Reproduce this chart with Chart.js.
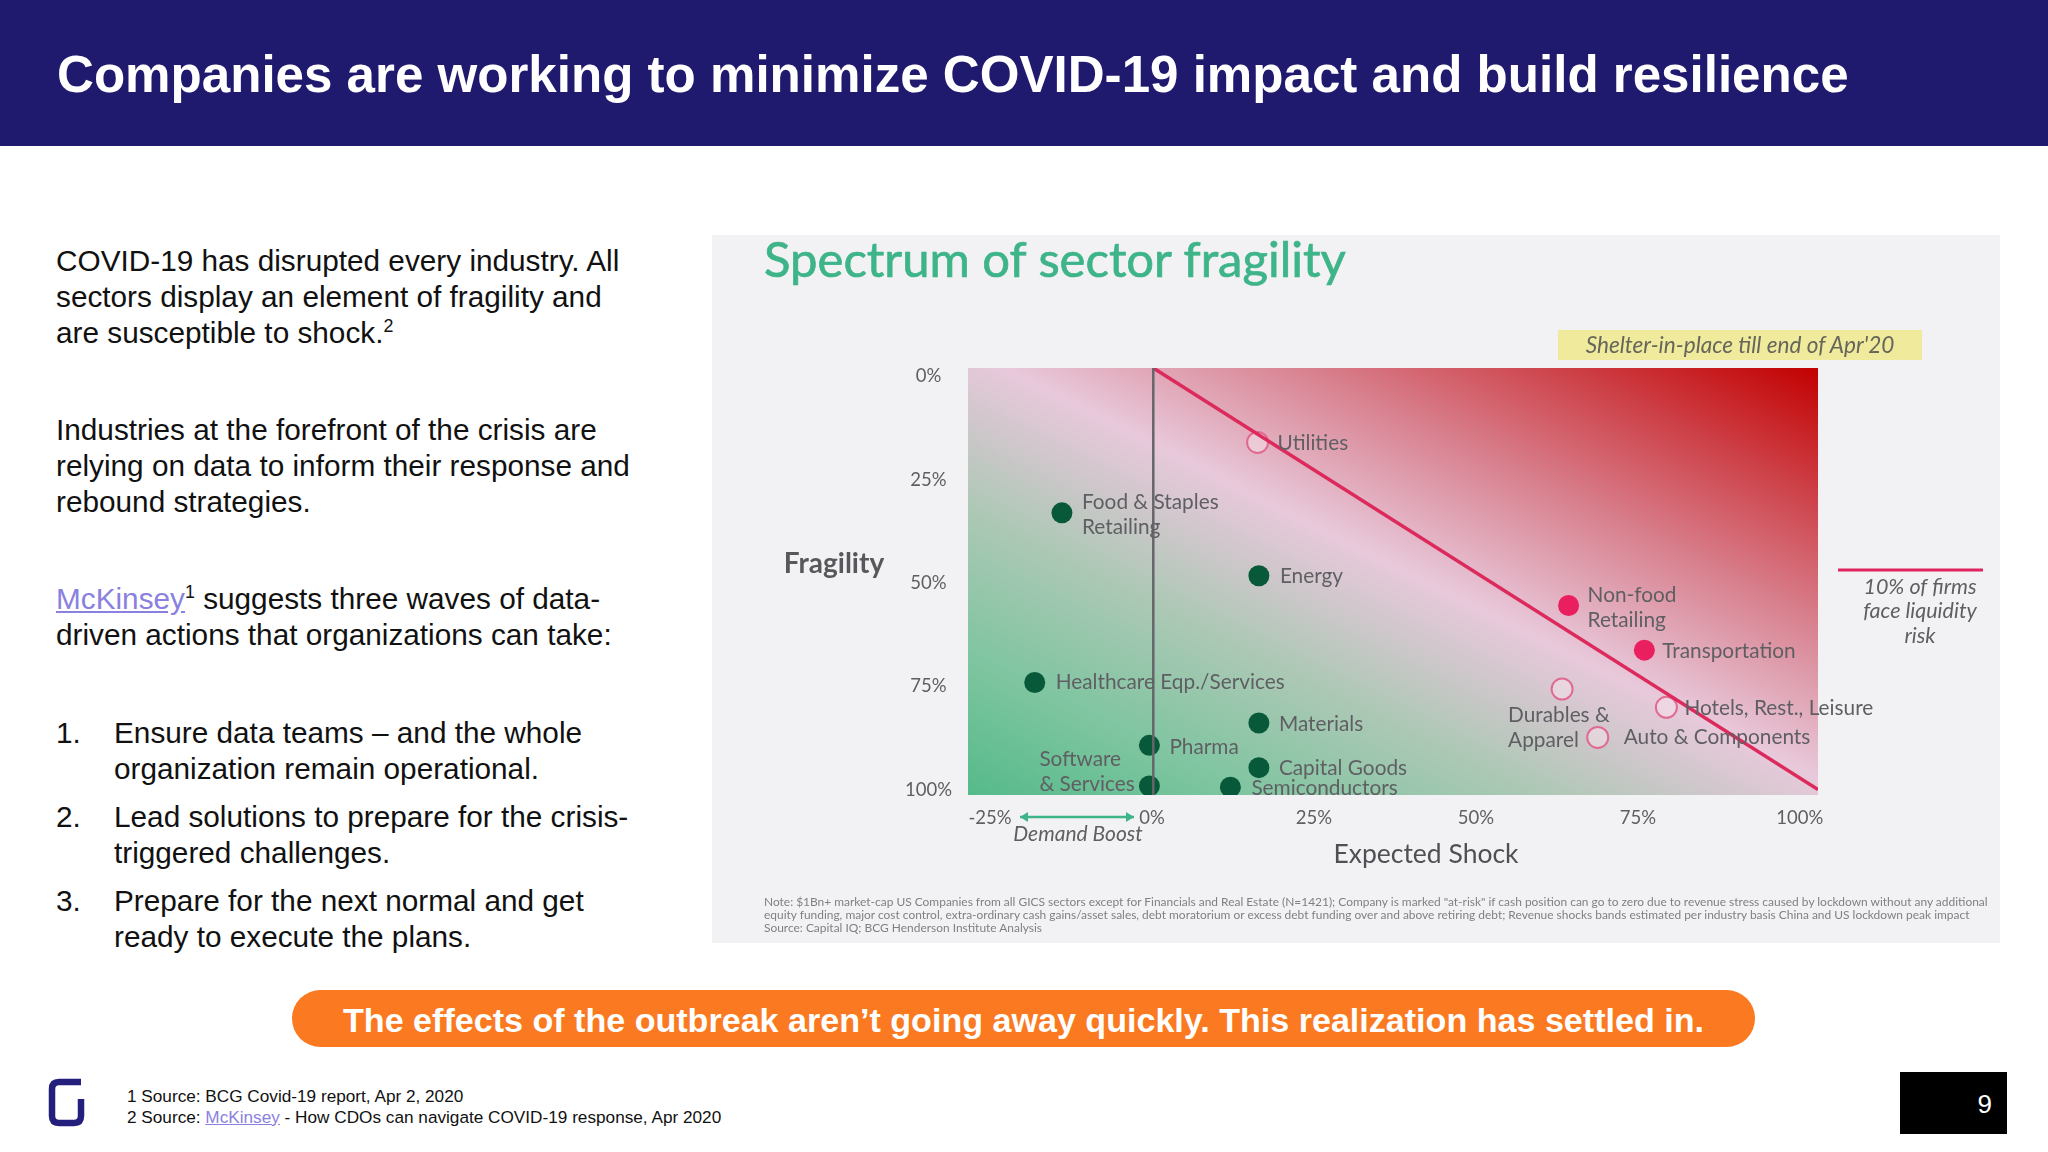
<!DOCTYPE html>
<html>
<head>
<meta charset="utf-8">
<title>Sector fragility</title>
<script src="https://cdn.jsdelivr.net/npm/chart.js@4"></script>
<style>
  html, body { margin: 0; padding: 0; background: #fff; }
  body { position: relative; width: 2048px; height: 1152px; overflow: hidden; font-family: "Liberation Sans", Arial, sans-serif; color: #111; }
  .abs { position: absolute; white-space: nowrap; }
  #header { left: 0; top: 0; width: 2048px; height: 146px; background: #1f1a6e; }
  #headline { left: 57px; top: 45px; font-size: 51.1px; line-height: 60px; font-weight: bold; color: #fff; }
  .body-text { font-size: 29.75px; line-height: 36px; }
  a { color: #8a80e0; }
  sup { font-size: 60%; line-height: 0; }
  #panel { left: 712px; top: 235px; width: 1288px; height: 708px; background: #f2f1f4; }
  #chartTitle { left: 764px; top: 229px; font-family: Lato, sans-serif; font-size: 49px; line-height: 58px; color: #3eb489; -webkit-text-stroke: 0.7px #3eb489; filter: blur(0.5px); }
  #badge { left: 1558px; top: 330px; width: 364px; height: 30px; line-height: 30px; text-align: center; background: #f0ea9c; color: #66665a; font-family: Lato, sans-serif; font-style: italic; font-size: 22.6px; filter: blur(0.4px); }
  #note { left: 764px; top: 895px; font-family: Lato, sans-serif; font-size: 11.95px; line-height: 13px; color: #808084; filter: blur(0.6px); }
  #chartBox { left: 712px; top: 235px; width: 1288px; height: 708px; }
  #chartCanvas { filter: blur(0.6px); }
  #pill { left: 292px; top: 990px; width: 1463px; height: 57px; border-radius: 29px; background: #fb7a21; color: #fff; font-weight: bold; font-size: 34.1px; line-height: 60px; text-align: center; }
  #sources { left: 127px; top: 1086px; font-size: 17.2px; line-height: 20.5px; }
  #pageBox { left: 1900px; top: 1072px; width: 107px; height: 62px; background: #000; color: #fff; font-size: 26px; line-height: 64px; text-align: right; box-sizing: border-box; padding-right: 15px; }
</style>
</head>
<body>
<div class="abs" id="header"></div>
<div class="abs" id="headline">Companies are working to minimize COVID-19 impact and build resilience</div>

<div class="abs body-text" style="left:56px;top:243px">COVID-19 has disrupted every industry. All<br>sectors display an element of fragility and<br>are susceptible to shock.<sup>2</sup></div>
<div class="abs body-text" style="left:56px;top:412px">Industries at the forefront of the crisis are<br>relying on data to inform their response and<br>rebound strategies.</div>
<div class="abs body-text" style="left:56px;top:581px"><a href="#">McKinsey</a><sup>1</sup> suggests three waves of data-<br>driven actions that organizations can take:</div>
<div class="abs body-text" style="left:56px;top:715px">1.</div>
<div class="abs body-text" style="left:114px;top:715px">Ensure data teams – and the whole<br>organization remain operational.</div>
<div class="abs body-text" style="left:56px;top:799px">2.</div>
<div class="abs body-text" style="left:114px;top:799px">Lead solutions to prepare for the crisis-<br>triggered challenges.</div>
<div class="abs body-text" style="left:56px;top:883px">3.</div>
<div class="abs body-text" style="left:114px;top:883px">Prepare for the next normal and get<br>ready to execute the plans.</div>

<div class="abs" id="panel"></div>
<div class="abs" id="chartTitle">Spectrum of sector fragility</div>
<div class="abs" id="badge">Shelter-in-place till end of Apr'20</div>
<div class="abs" id="chartBox"><canvas id="chartCanvas" width="1288" height="708"></canvas></div>
<div class="abs" id="note">Note: $1Bn+ market-cap US Companies from all GICS sectors except for Financials and Real Estate (N=1421); Company is marked "at-risk" if cash position can go to zero due to revenue stress caused by lockdown without any additional<br>equity funding, major cost control, extra-ordinary cash gains/asset sales, debt moratorium or excess debt funding over and above retiring debt; Revenue shocks bands estimated per industry basis China and US lockdown peak impact<br>Source: Capital IQ; BCG Henderson Institute Analysis</div>

<div class="abs" id="pill">The effects of the outbreak aren’t going away quickly. This realization has settled in.</div>

<svg class="abs" style="left:48px;top:1078px" width="38" height="50" viewBox="0 0 38 50">
  <path d="M33 4 H11 Q4 4 4 11 V38 Q4 45 11 45 H26 Q33 45 33 38 V21" fill="none" stroke="#241f7c" stroke-width="6.5"/>
</svg>
<div class="abs" id="sources">1 Source: BCG Covid-19 report, Apr 2, 2020<br>2 Source: <a href="#">McKinsey</a> - How CDOs can navigate COVID-19 response, Apr 2020</div>
<div class="abs" id="pageBox">9</div>

<script>
// Sectors (x = expected shock %, y = fragility %)
const safeNames = ['Food & Staples|Retailing', 'Energy', 'Healthcare Eqp./Services', 'Materials', 'Pharma', 'Software|& Services', 'Capital Goods', 'Semiconductors'];
const safeShock = [-13.9, 16.5, -18.1, 16.5, -0.4, -0.4, 16.5, 12.1];
const safeFragility = [33.4, 48.6, 74.4, 84.2, 89.6, 99.4, 95, 99.7];

const riskNames = ['Non-food|Retailing', 'Transportation'];
const riskShock = [64.3, 76];
const riskFragility = [55.8, 66.6];

const hollowNames = ['Utilities', 'Durables &|Apparel', 'Auto & Components', 'Hotels, Rest., Leisure'];
const hollowShock = [16.3, 63.3, 68.8, 79.4];
const hollowFragility = [16.4, 76, 87.7, 80.4];

const riskLineShock = [0.2, 102.8];
const riskLineFragility = [-1.6, 100.3];
const zeroLineShock = [0.2, 0.2];
const zeroLineFragility = [-1.6, 101.6];

const shockTicks = [-25, 0, 25, 50, 75, 100];
const fragilityTicks = [0, 25, 50, 75, 100];

const textFont = 'Lato, sans-serif';
const textColor = '#5f5f63';

const toPoints = (xs, ys) => xs.map((x, i) => ({ x: x, y: ys[i] }));

// label offsets from the dot, in px: [dx, dy, align]
const labelPlacement = {
    'Food & Staples|Retailing': [20, -11, 'left'],
    'Energy': [21, 1, 'left'],
    'Healthcare Eqp./Services': [21, 0, 'left'],
    'Materials': [20, 1, 'left'],
    'Pharma': [20, 2, 'left'],
    'Software|& Services': [-110, -27, 'left'],
    'Capital Goods': [20, 1, 'left'],
    'Semiconductors': [21, 1, 'left'],
    'Non-food|Retailing': [19, -10, 'left'],
    'Transportation': [18, 1, 'left'],
    'Utilities': [20, 1, 'left'],
    'Durables &|Apparel': [-54, 26, 'left'],
    'Auto & Components': [26, 0, 'left'],
    'Hotels, Rest., Leisure': [18, 1, 'left']
};

// plot background, green to pink to red across the corner diagonal
const plotBackground = {
    id: 'plotBackground',
    beforeDatasetsDraw(chart) {
        const { ctx, chartArea: a } = chart;
        const w = a.right - a.left, h = a.bottom - a.top;
        const cx = a.left + w / 2, cy = a.top + h / 2;
        const d = w * w + h * h;
        const ex = w * h * h / d, ey = w * w * h / d;
        const g = ctx.createLinearGradient(cx - ex, cy + ey, cx + ex, cy - ey);
        g.addColorStop(0, '#55ba89');
        g.addColorStop(0.16, '#7ec5a0');
        g.addColorStop(0.34, '#aec8b6');
        g.addColorStop(0.44, '#cfc7cb');
        g.addColorStop(0.52, '#e8c9db');
        g.addColorStop(0.7, '#d8808e');
        g.addColorStop(1, '#c20000');
        ctx.save();
        ctx.fillStyle = g;
        ctx.fillRect(a.left, a.top, w, h);
        ctx.restore();
    }
};

// sector names and the loose annotations around the plot
const chartNotes = {
    id: 'chartNotes',
    afterDatasetsDraw(chart) {
        const { ctx, scales } = chart;
        const drawText = (str, x, y, font, color, align) => {
            ctx.font = font;
            ctx.fillStyle = color;
            ctx.textAlign = align || 'center';
            ctx.textBaseline = 'middle';
            ctx.fillText(str, x, y);
        };
        ctx.save();
        const nameFont = '20.8px ' + textFont;
        [[safeNames, safeShock, safeFragility], [riskNames, riskShock, riskFragility], [hollowNames, hollowShock, hollowFragility]].forEach(([names, xs, ys]) => {
            names.forEach((name, i) => {
                const [dx, dy, align] = labelPlacement[name];
                const px = scales.x.getPixelForValue(xs[i]) + dx;
                const py = scales.y.getPixelForValue(ys[i]) + dy;
                name.split('|').forEach((line, k) => drawText(line, px, py + k * 25, nameFont, textColor, align));
            });
        });

        drawText('Fragility', 122, 329, 'bold 28px ' + textFont, '#58585c');
        drawText('Expected Shock', 714, 619, '26.5px ' + textFont, '#505054');
        drawText('Demand Boost', 366, 599, 'italic 21px ' + textFont, textColor);

        // demand boost arrow
        ctx.strokeStyle = '#3eb489';
        ctx.fillStyle = '#3eb489';
        ctx.lineWidth = 2.5;
        const ay = 582, ax0 = 308, ax1 = 422;
        ctx.beginPath();
        ctx.moveTo(ax0, ay);
        ctx.lineTo(ax1, ay);
        ctx.stroke();
        [[ax0, 8], [ax1, -8]].forEach(([tip, dir]) => {
            ctx.beginPath();
            ctx.moveTo(tip, ay);
            ctx.lineTo(tip + dir, ay - 5);
            ctx.lineTo(tip + dir, ay + 5);
            ctx.fill();
        });

        // liquidity risk key
        ctx.strokeStyle = '#e0245e';
        ctx.lineWidth = 3;
        ctx.beginPath();
        ctx.moveTo(1126, 335);
        ctx.lineTo(1271, 335);
        ctx.stroke();
        ['10% of firms', 'face liquidity', 'risk'].forEach((line, k) => drawText(line, 1208, 352 + k * 24.5, 'italic 21.5px ' + textFont, textColor));
        ctx.restore();
    }
};

new Chart(document.getElementById('chartCanvas'), {
    type: 'scatter',
    data: {
        datasets: [
            { data: toPoints(zeroLineShock, zeroLineFragility), showLine: true, borderColor: '#66666a', borderWidth: 2.5, pointRadius: 0 },
            { data: toPoints(riskLineShock, riskLineFragility), showLine: true, borderColor: '#dc2a5c', borderWidth: 3.5, pointRadius: 0 },
            { data: toPoints(safeShock, safeFragility), pointRadius: 10.5, backgroundColor: '#08593a', borderWidth: 0 },
            { data: toPoints(riskShock, riskFragility), pointRadius: 10.5, backgroundColor: '#ea1f5f', borderWidth: 0 },
            { data: toPoints(hollowShock, hollowFragility), pointRadius: 10.5, backgroundColor: 'rgba(245,228,236,0.5)', borderColor: '#e06a90', borderWidth: 2 }
        ]
    },
    options: {
        responsive: false,
        animation: false,
        devicePixelRatio: 1,
        layout: { padding: { left: 178, right: 182, top: 133, bottom: 98 } },
        plugins: { legend: { display: false }, tooltip: { enabled: false } },
        scales: {
            x: {
                type: 'linear',
                min: -28.4,
                max: 102.8,
                afterBuildTicks: axis => { axis.ticks = shockTicks.map(v => ({ value: v })); },
                afterFit: axis => { axis.height = 50; },
                grid: { display: false, drawTicks: false },
                border: { display: false },
                ticks: { callback: v => v + '%', font: { family: 'Lato', size: 18.5 }, color: textColor, padding: 12, maxRotation: 0, autoSkip: false }
            },
            y: {
                type: 'linear',
                reverse: true,
                min: -1.6,
                max: 101.6,
                afterBuildTicks: axis => { axis.ticks = fragilityTicks.map(v => ({ value: v })); },
                afterFit: axis => { axis.width = 78; },
                grid: { display: false, drawTicks: false },
                border: { display: false },
                ticks: { callback: v => v + '%', font: { family: 'Lato', size: 18.5 }, color: textColor, crossAlign: 'center', padding: 16, labelOffset: 1.5, autoSkip: false }
            }
        }
    },
    plugins: [plotBackground, chartNotes]
});
</script>
</body>
</html>
